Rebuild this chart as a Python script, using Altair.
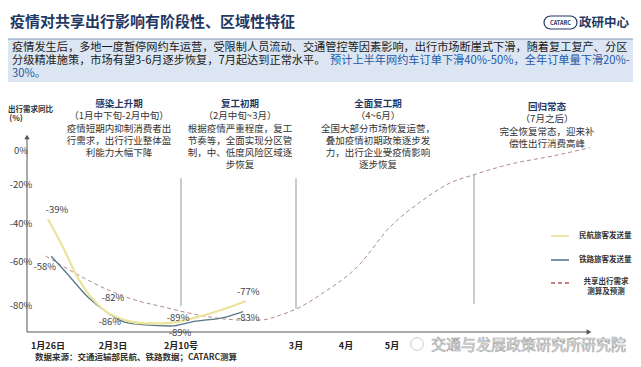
import altair as alt
import pandas as pd

FONT = "Noto Sans CJK SC"
W, H = 625, 359

# ---------------- data ----------------
# x = days since 2020-01-26 ; y = year-on-year change in %
TICK_DAYS = [0, 8, 15, 35, 66, 96]
TICK_LABELS = ["1月26日", "2月3日", "2月10号", "3月", "4月", "5月"]
Y_TICKS = [0, -20, -40, -60, -80]
Y_TICK_LABELS = ["0%", "-20%", "-40%", "-60%", "-80%"]

AIR_DAYS = [0, 1.7, 3.7, 6.6, 9.2, 11.3, 13.4, 17.1, 23, 26.3]
AIR_VALUES = [-37.5, -51, -67.4, -81, -86.4, -87.9, -87.9, -85.5, -80.9, -77.7]

RAIL_DAYS = [0.4, 2.5, 4.9, 7.4, 9.2, 11.3, 13.9, 17.1, 23, 25.8]
RAIL_VALUES = [-57, -65.9, -75.9, -83.2, -87.3, -88.6, -89.1, -87.1, -84.9, -82.6]

SHARED_DAYS = [-0.3, 3.3, 7.4, 11, 12.8, 14.9, 20, 25.8, 28.8, 32.3, 37.5, 51.7,
               73.2, 94.7, 119.1, 139.2, 156.3, 181.6, 218.8, 243.3]
SHARED_VALUES = [-56.8, -65, -72.7, -78.2, -80, -82.3, -85, -86.4, -86.4, -84.1, -80.5, -74.1,
                 -62.3, -41.6, -27.7, -18.8, -14.1, -8.2, -2.4, 2]

LABEL_TEXTS = ["-39%", "-58%", "-82%", "-86%", "-89%", "-89%", "-77%", "-83%"]
LABEL_DAYS = [1.1, -0.4, 8, 7.6, 14.7, 14.9, 26.7, 26.7]
LABEL_VALUES = [-32.8, -62.3, -76.4, -87.3, -85.5, -92.3, -73.6, -85.5]

DIVIDER_DAYS = [15, 35, 157]
DIVIDER_TOP = [-16, -16, -14]
DIVIDER_BOTTOM = [-80, -81, -79]

TITLE = "疫情对共享出行影响有阶段性、区域性特征"
BOX_LINE1 = "疫情发生后，多地一度暂停网约车运营，受限制人员流动、交通管控等因素影响，出行市场断崖式下滑，随着复工复产、分区"
BOX_LINE2A = "分级精准施策，市场有望3-6月逐步恢复，7月起达到正常水平。"
BOX_LINE2B = "预计上半年网约车订单下滑40%-50%，全年订单量下滑20%-"
BOX_LINE3 = "30%。"

PHASE_TITLES = ["感染上升期", "复工初期", "全面复工期", "回归常态"]
PHASE_PERIODS = ["（1月中下旬-2月中旬）", "（2月中旬~3月）", "（4~6月）", "（7月之后）"]
PHASE_BODIES = [
    ["疫情短期内抑制消费者出", "行需求，出行行业整体盈", "利能力大幅下降"],
    ["根据疫情严重程度，复工", "节奏等，全面实现分区管", "制，中、低度风险区域逐", "步恢复"],
    ["全国大部分市场恢复运营，", "叠加疫情初期政策逐步发", "力，出行企业受疫情影响", "逐步恢复"],
    ["完全恢复常态，迎来补", "偿性出行消费高峰"],
]

LEGEND_NAMES = ["民航旅客发送量", "铁路旅客发送量"]
LEGEND_SHARED = ["共享出行需求", "测算及预测"]
SOURCE = "数据来源：交通运输部民航、铁路数据；CATARC测算"
WATERMARK = "交通与发展政策研究所研究院"

# ---------------- scales ----------------
xs = alt.Scale(domain=[0, 8, 15, 35, 66, 96, 157],
               range=[40, 105, 173, 288, 338, 384, 466], nice=False, zero=False)
ys = alt.Scale(domain=[-80, -60, -40, -20, 0],
               range=[298, 254, 216, 177, 143], nice=False, zero=False)

one = pd.DataFrame({"a": [0]})
layers = []

def txt(text, x, y, size=9.5, color="#333333", weight="normal", align="center", **kw):
    return alt.Chart(one).mark_text(text=text, font=FONT, fontSize=size, color=color,
                                    fontWeight=weight, align=align, baseline="middle", **kw
                                    ).encode(x=alt.value(x), y=alt.value(y))

# header
layers.append(txt(TITLE, 2, 14, size=15, color="#1f3864", weight="bold", align="left"))
layers.append(alt.Chart(one).mark_rect(cornerRadius=7, fill="white", stroke="#1f3864", strokeWidth=1.2)
              .encode(x=alt.value(536), x2=alt.value(569), y=alt.value(8), y2=alt.value(21)))
layers.append(txt("CATARC", 552.5, 14.5, size=5.5, color="#1f3864", weight="bold"))
layers.append(txt("政研中心", 571, 14.5, size=12.5, color="#1f3864", weight="bold", align="left"))
layers.append(alt.Chart(one).mark_rect(fill="#dce6f2")
              .encode(x=alt.value(0), x2=alt.value(625), y=alt.value(31), y2=alt.value(74)))
layers.append(alt.Chart(one).mark_rule(color="#7f95b5", strokeWidth=1)
              .encode(x=alt.value(0), x2=alt.value(625), y=alt.value(31)))
layers.append(txt(BOX_LINE1, 4, 40, size=11.2, color="#1a1a1a", align="left"))
layers.append(txt(BOX_LINE2A, 4, 53, size=11.2, color="#1a1a1a", align="left"))
layers.append(txt(BOX_LINE2B, 322, 53, size=11.2, color="#2458a8", align="left"))
layers.append(txt(BOX_LINE3, 4, 66, size=11.2, color="#2458a8", align="left"))

# phase annotations
centers = [111, 232, 370, 539]
tops = [96, 96, 96, 99]
for i in range(4):
    cx, ty = centers[i], tops[i]
    layers.append(txt(PHASE_TITLES[i], cx, ty, size=9.5, color="#1f3864", weight="bold"))
    layers.append(txt(PHASE_PERIODS[i], cx, ty + 12, size=9.5, color="#333333"))
    for j, line in enumerate(PHASE_BODIES[i]):
        layers.append(txt(line, cx, ty + 24.5 + 12 * j, size=9.5, color="#333333"))

# axis label
layers.append(txt("出行需求同比", 0, 102, size=7.5, color="#333333", weight="bold", align="left"))
layers.append(txt("(%)", 8, 111, size=8, color="#333333", weight="bold"))

# dividers
div_df = pd.DataFrame({"day": DIVIDER_DAYS, "top": DIVIDER_TOP, "bottom": DIVIDER_BOTTOM})
layers.append(alt.Chart(div_df).mark_rule(color="#8c99a5", strokeWidth=1).encode(
    x=alt.X("day:Q", scale=xs, axis=None),
    y=alt.Y("top:Q", scale=ys, axis=None), y2="bottom:Q"))

# axes
layers.append(alt.Chart(one).mark_rule(color="#555555", strokeWidth=1)
              .encode(x=alt.value(19), y=alt.value(130), y2=alt.value(324)))
layers.append(alt.Chart(one).mark_point(shape="triangle-up", filled=True, size=30, color="#555555", opacity=1)
              .encode(x=alt.value(19), y=alt.value(129)))
layers.append(alt.Chart(one).mark_rule(color="#555555", strokeWidth=1)
              .encode(x=alt.value(19), x2=alt.value(580), y=alt.value(324)))
layers.append(alt.Chart(one).mark_point(shape="triangle-right", filled=True, size=30, color="#555555", opacity=1)
              .encode(x=alt.value(581), y=alt.value(324)))

yt_df = pd.DataFrame({"v": Y_TICKS, "lab": Y_TICK_LABELS})
layers.append(alt.Chart(yt_df).mark_text(font=FONT, fontSize=9.5, color="#444444", align="center",
                                         baseline="middle").encode(
    x=alt.value(13), y=alt.Y("v:Q", scale=ys, axis=None), text="lab:N"))

xt_df = pd.DataFrame({"day": TICK_DAYS, "lab": TICK_LABELS})
layers.append(alt.Chart(xt_df).mark_text(font=FONT, fontSize=9, fontWeight="bold", color="#222222",
                                         align="center", baseline="middle").encode(
    x=alt.X("day:Q", scale=xs, axis=None), y=alt.value(338), text="lab:N"))

# series
def series(days, vals, **kw):
    return alt.Chart(pd.DataFrame({"day": days, "v": vals})).mark_line(interpolate="monotone", **kw).encode(
        x=alt.X("day:Q", scale=xs, axis=None), y=alt.Y("v:Q", scale=ys, axis=None))

layers.append(series(SHARED_DAYS, SHARED_VALUES, color="#b08a8a", strokeWidth=1, strokeDash=[4, 3]))
layers.append(series(RAIL_DAYS, RAIL_VALUES, color="#58788a", strokeWidth=1.3))
layers.append(series(AIR_DAYS, AIR_VALUES, color="#ebe39a", strokeWidth=2.2))

lab_df = pd.DataFrame({"day": LABEL_DAYS, "v": LABEL_VALUES, "lab": LABEL_TEXTS})
layers.append(alt.Chart(lab_df).mark_text(font=FONT, fontSize=9.5, color="#444444", align="center",
                                          baseline="middle").encode(
    x=alt.X("day:Q", scale=xs, axis=None), y=alt.Y("v:Q", scale=ys, axis=None), text="lab:N"))

# legend
leg_y = [228, 252, 275]
leg_colors = ["#ebe39a", "#58788a"]
for i in range(2):
    layers.append(alt.Chart(one).mark_rule(color=leg_colors[i], strokeWidth=1.6)
                  .encode(x=alt.value(543), x2=alt.value(561), y=alt.value(leg_y[i])))
    layers.append(txt(LEGEND_NAMES[i], 571, leg_y[i], size=7.5, color="#333333", weight="bold", align="left"))
layers.append(alt.Chart(one).mark_rule(color="#b05a5a", strokeWidth=1.6, strokeDash=[4, 3])
              .encode(x=alt.value(543), x2=alt.value(561), y=alt.value(leg_y[2])))
layers.append(txt(LEGEND_SHARED[0], 598, leg_y[2] - 1, size=7.5, color="#333333", weight="bold"))
layers.append(txt(LEGEND_SHARED[1], 598, leg_y[2] + 9, size=7.5, color="#333333", weight="bold"))

# footer
layers.append(txt(SOURCE, 27, 349, size=8.5, color="#333333", weight="bold", align="left"))
layers.append(alt.Chart(one).mark_point(shape="circle", filled=False, size=160, color="#b5b5b5", strokeWidth=1)
              .encode(x=alt.value(409), y=alt.value(336)))
layers.append(alt.Chart(one).mark_text(text=WATERMARK, font=FONT, fontSize=15, fill="#ffffff",
                                       stroke="#a8a8a8", strokeWidth=0.7, align="left", baseline="middle")
              .encode(x=alt.value(423), y=alt.value(337)))

chart = alt.layer(*layers).properties(
    width=W, height=H, autosize=alt.AutoSizeParams(type="none"), padding=0,
    background="white"
).configure_view(stroke=None)

chart.save("out.html", embed_options={"renderer": "svg", "actions": False})
